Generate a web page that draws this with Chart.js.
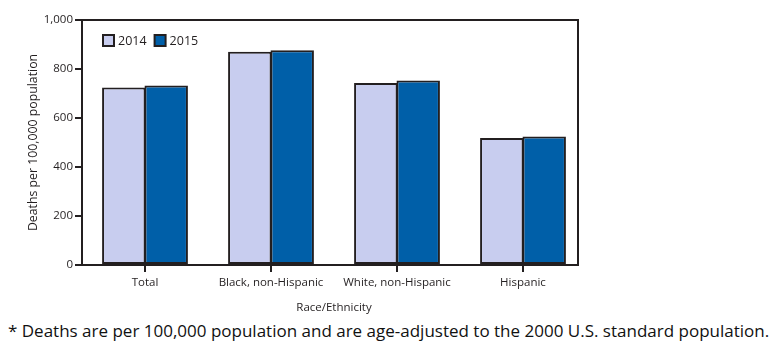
<!DOCTYPE html>
<html>
<head>
<meta charset="utf-8">
<script src="https://cdn.jsdelivr.net/npm/chart.js@4/dist/chart.umd.min.js"></script>
<style>
  html, body { margin: 0; padding: 0; background: #fff; }
  #wrap { position: relative; width: 779px; height: 349px; overflow: hidden; }
  #c { position: absolute; left: 0; top: 0; }
  #note { position: absolute; left: 8px; top: 319px; font-family: "Open Sans", sans-serif; font-size: 17px; color: #111; white-space: nowrap; }
</style>
</head>
<body>
<div id="wrap">
  <canvas id="c" width="779" height="318"></canvas>
  <div id="note">* Deaths are per 100,000 population and are age-adjusted to the 2000 U.S. standard population.</div>
</div>
<script>
// Age-adjusted death rates by race/ethnicity
const categories = ["Total", "Black, non-Hispanic", "White, non-Hispanic", "Hispanic"];
const years = ["2014", "2015"];
const rates2014 = [724.6, 870.7, 742.8, 518.6];
const rates2015 = [733.1, 876.1, 753.2, 525.0];
const yTicks = [0, 200, 400, 600, 800, 1000];

const INK = "#231f20";
const FONT = "Open Sans";

// Box around the plot (drawn short of the right end of the category scale)
const framePlugin = {
  id: "frame",
  afterDatasetsDraw(chart) {
    const a = chart.chartArea;
    const ctx = chart.ctx;
    ctx.save();
    ctx.strokeStyle = INK;
    ctx.lineWidth = 2;
    ctx.strokeRect(a.left, a.top, (a.right - 8) - a.left, a.bottom - a.top);
    ctx.restore();
  }
};

// Legend drawn inside the plot, top-left
const innerLegend = {
  id: "innerLegend",
  afterDraw(chart) {
    const a = chart.chartArea;
    const ctx = chart.ctx;
    ctx.save();
    ctx.font = "12.5px '" + FONT + "'";
    ctx.textBaseline = "middle";
    let x = a.left + 21;
    const y = a.top + 15;
    chart.data.datasets.forEach(ds => {
      ctx.fillStyle = ds.backgroundColor;
      ctx.fillRect(x, y, 11, 11);
      ctx.strokeStyle = INK;
      ctx.lineWidth = 2;
      ctx.strokeRect(x, y, 11, 11);
      ctx.fillStyle = INK;
      ctx.fillText(ds.label, x + 15, y + 6);
      x += 15 + ctx.measureText(ds.label).width + 8;
    });
    ctx.restore();
  }
};

new Chart(document.getElementById("c"), {
  type: "bar",
  data: {
    labels: categories,
    datasets: [
      { label: years[0], data: rates2014, backgroundColor: "#c8cdef", borderColor: INK, borderWidth: 2, borderSkipped: false },
      { label: years[1], data: rates2015, backgroundColor: "#005fa8", borderColor: INK, borderWidth: 2, borderSkipped: false }
    ]
  },
  options: {
    responsive: false,
    animation: false,
    categoryPercentage: 0.673,
    barPercentage: 1.025,
    layout: { padding: { left: 26, right: 193, top: 20, bottom: 0 } },
    plugins: { legend: { display: false }, tooltip: { enabled: false } },
    scales: {
      x: {
        grid: { display: true, offset: false, drawOnChartArea: false, drawTicks: true, tickLength: 7, color: INK, lineWidth: 2 },
        border: { display: false },
        ticks: { color: INK, font: { family: FONT, size: 11.5 }, padding: 4, maxRotation: 0 },
        title: { display: true, text: "Race/Ethnicity", color: INK, font: { family: FONT, size: 11.5 }, padding: { top: 0, bottom: 3 } },
        afterFit(s) { s.height = 53; }
      },
      y: {
        min: 0, max: 1000,
        afterBuildTicks(s) { s.ticks = yTicks.map(v => ({ value: v })); },
        grid: { display: true, drawOnChartArea: false, drawTicks: true, tickLength: 7, color: INK, lineWidth: 2 },
        border: { display: false },
        ticks: {
          color: INK, font: { family: FONT, size: 11.5 }, padding: 2,
          callback: v => v.toLocaleString("en-US")
        },
        title: { display: true, text: "Deaths per 100,000 population", color: INK, font: { family: FONT, size: 12.3 }, padding: 0 },
        afterFit(s) { s.width = 56; }
      }
    }
  },
  plugins: [framePlugin, innerLegend]
});
</script>
</body>
</html>
